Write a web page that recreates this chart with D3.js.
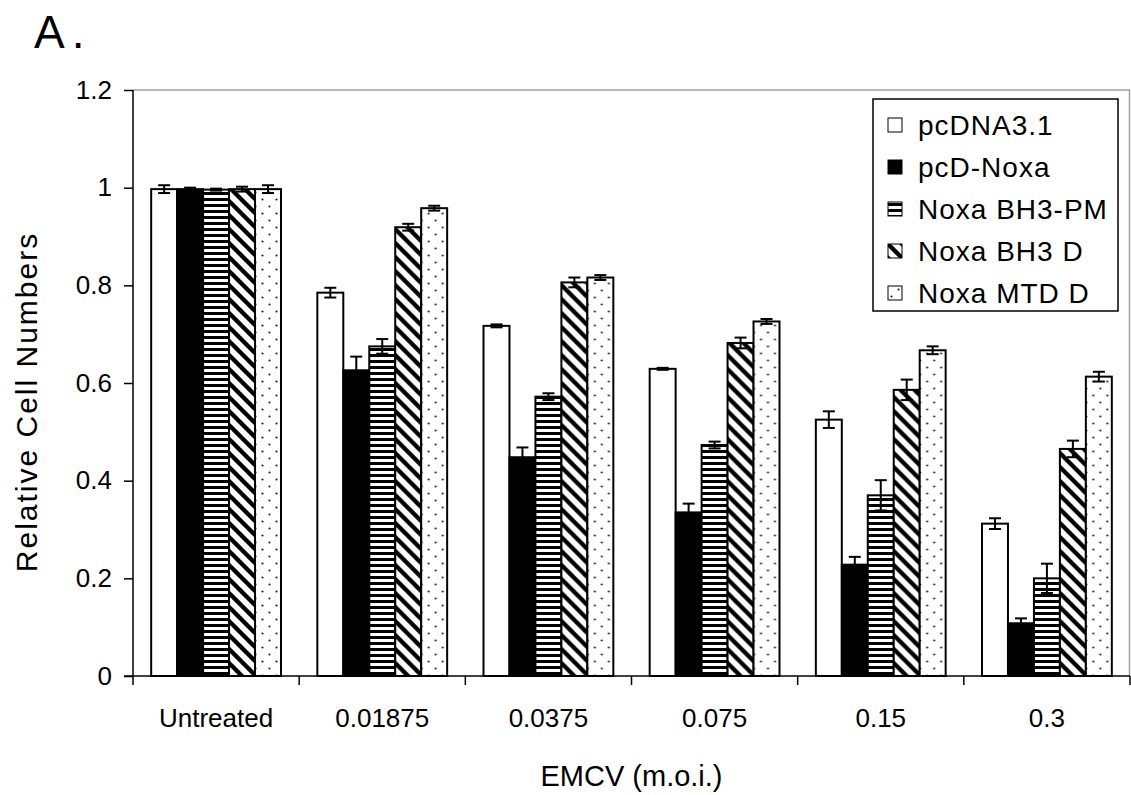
<!DOCTYPE html>
<html>
<head>
<meta charset="utf-8">
<script src="https://cdn.jsdelivr.net/npm/d3@7"></script>
<style>
  body { margin: 0; background: #fff; }
  svg text { font-family: "Liberation Sans", Arial, sans-serif; fill: #000; }
</style>
</head>
<body>
<div id="chart"></div>
<script>
// categories on the x axis (EMCV m.o.i.)
var categories = ["Untreated", "0.01875", "0.0375", "0.075", "0.15", "0.3"];
var series = ["pcDNA3.1", "pcD-Noxa", "Noxa BH3-PM", "Noxa BH3 D", "Noxa MTD D"];

// relative cell numbers, one array per series
var pcDNA = [0.997, 0.785, 0.717, 0.629, 0.525, 0.312];
var pcDNoxa = [0.997, 0.626, 0.448, 0.335, 0.228, 0.108];
var bh3PM = [0.996, 0.675, 0.572, 0.473, 0.370, 0.200];
var bh3D = [0.997, 0.919, 0.806, 0.682, 0.586, 0.465];
var mtdD = [0.997, 0.958, 0.816, 0.726, 0.667, 0.613];

// error bar half-heights
var pcDNAErr = [0.008, 0.010, 0.003, 0.002, 0.017, 0.011];
var pcDNoxaErr = [0.003, 0.028, 0.020, 0.018, 0.016, 0.010];
var bh3PMErr = [0.002, 0.015, 0.007, 0.007, 0.031, 0.030];
var bh3DErr = [0.005, 0.007, 0.010, 0.011, 0.021, 0.017];
var mtdDErr = [0.008, 0.005, 0.005, 0.005, 0.008, 0.010];

var yTicks = [0, 0.2, 0.4, 0.6, 0.8, 1, 1.2];

var values = [pcDNA, pcDNoxa, bh3PM, bh3D, mtdD];
var errors = [pcDNAErr, pcDNoxaErr, bh3PMErr, bh3DErr, mtdDErr];
var fills = ["#fff", "#000", "url(#hstripe)", "url(#diag)", "url(#dots)"];

var width = 1131, height = 795;
var margin = { top: 90, right: 1, bottom: 119, left: 133 };

var svg = d3.select("#chart").append("svg")
    .attr("width", width)
    .attr("height", height);

// fill patterns
var defs = svg.append("defs");

var hs = defs.append("pattern")
    .attr("id", "hstripe")
    .attr("patternUnits", "userSpaceOnUse")
    .attr("width", 6).attr("height", 6);
hs.append("rect").attr("width", 6).attr("height", 6).attr("fill", "#fff");
hs.append("rect").attr("width", 6).attr("height", 3).attr("fill", "#000");

var dg = defs.append("pattern")
    .attr("id", "diag")
    .attr("patternUnits", "userSpaceOnUse")
    .attr("width", 14).attr("height", 14);
dg.append("rect").attr("width", 14).attr("height", 14).attr("fill", "#fff");
dg.append("path")
    .attr("d", "M-7,0 L21,28 M-7,-14 L21,14 M-7,-28 L21,0")
    .attr("stroke", "#000")
    .attr("stroke-width", 4.3);

var dt = defs.append("pattern")
    .attr("id", "dots")
    .attr("patternUnits", "userSpaceOnUse")
    .attr("width", 14).attr("height", 14);
dt.append("rect").attr("width", 14).attr("height", 14).attr("fill", "#fff");
dt.append("circle").attr("cx", 3.5).attr("cy", 3.5).attr("r", 1.1).attr("fill", "#222");
dt.append("circle").attr("cx", 10.5).attr("cy", 10.5).attr("r", 1.1).attr("fill", "#222");

var x0 = d3.scaleBand()
    .domain(categories)
    .range([margin.left, width - margin.right])
    .padding(0);

var x1 = d3.scaleBand()
    .domain(series)
    .range([0, x0.bandwidth()])
    .paddingInner(0)
    .paddingOuter(0.7);

var y = d3.scaleLinear()
    .domain([0, 1.2])
    .range([height - margin.bottom, margin.top]);

// plot area frame (grey top and right)
svg.append("line")
    .attr("x1", margin.left).attr("x2", width - margin.right)
    .attr("y1", y(1.2)).attr("y2", y(1.2))
    .attr("stroke", "#a0a0a0").attr("stroke-width", 1.5);
svg.append("line")
    .attr("x1", width - margin.right - 0.5).attr("x2", width - margin.right - 0.5)
    .attr("y1", y(1.2)).attr("y2", y(0))
    .attr("stroke", "#a0a0a0").attr("stroke-width", 1.5);

// bars
var group = svg.selectAll(".grp")
    .data(categories)
    .enter().append("g")
    .attr("class", "grp")
    .attr("transform", d => "translate(" + x0(d) + ",0)");

group.selectAll("rect")
    .data((c, ci) => series.map((s, si) => ({ s: s, si: si, v: values[si][ci], e: errors[si][ci] })))
    .enter().append("rect")
    .attr("x", d => x1(d.s))
    .attr("y", d => y(d.v))
    .attr("width", x1.bandwidth())
    .attr("height", d => y(0) - y(d.v))
    .attr("fill", d => fills[d.si])
    .attr("stroke", "#000")
    .attr("stroke-width", 2);

// error bars
var capW = 12;
var eb = group.selectAll(".err")
    .data((c, ci) => series.map((s, si) => ({ s: s, si: si, v: values[si][ci], e: errors[si][ci] })))
    .enter().append("g")
    .attr("class", "err")
    .attr("stroke", "#000")
    .attr("stroke-width", 2);

eb.append("line")
    .attr("x1", d => x1(d.s) + x1.bandwidth() / 2)
    .attr("x2", d => x1(d.s) + x1.bandwidth() / 2)
    .attr("y1", d => y(d.v - d.e))
    .attr("y2", d => y(d.v + d.e));
eb.append("line")
    .attr("x1", d => x1(d.s) + x1.bandwidth() / 2 - capW / 2)
    .attr("x2", d => x1(d.s) + x1.bandwidth() / 2 + capW / 2)
    .attr("y1", d => y(d.v + d.e))
    .attr("y2", d => y(d.v + d.e));
eb.append("line")
    .attr("x1", d => x1(d.s) + x1.bandwidth() / 2 - capW / 2)
    .attr("x2", d => x1(d.s) + x1.bandwidth() / 2 + capW / 2)
    .attr("y1", d => y(d.v - d.e))
    .attr("y2", d => y(d.v - d.e));

// y axis
var yAxis = svg.append("g")
    .attr("transform", "translate(" + margin.left + ",0)")
    .call(d3.axisLeft(y).tickValues(yTicks).tickFormat(d3.format("")).tickSize(9).tickPadding(12));
yAxis.selectAll("path, line").attr("stroke", "#000").attr("stroke-width", 1.5);
yAxis.select(".domain").attr("d", "M0," + y(1.2) + "V" + y(0));
yAxis.selectAll("text")
    .style("font-size", "26px")
    .style("font-family", "'Liberation Sans', Arial, sans-serif");

// x axis: labels centered, ticks at category boundaries
var xAxis = svg.append("g")
    .attr("transform", "translate(0," + y(0) + ")")
    .call(d3.axisBottom(x0).tickSize(0).tickPadding(33));
xAxis.select(".domain").attr("stroke", "#000").attr("stroke-width", 1.5)
    .attr("d", "M" + (margin.left - 9) + ",0H" + (width - margin.right));
xAxis.selectAll("text")
    .style("font-size", "26px")
    .style("font-family", "'Liberation Sans', Arial, sans-serif");

var bounds = categories.map(c => x0(c)).concat([x0(categories[categories.length - 1]) + x0.bandwidth()]);
xAxis.selectAll(".btick")
    .data(bounds)
    .enter().append("line")
    .attr("class", "btick")
    .attr("x1", d => d).attr("x2", d => d)
    .attr("y1", 0).attr("y2", 9)
    .attr("stroke", "#000").attr("stroke-width", 1.5);

// axis titles
svg.append("text")
    .attr("x", (margin.left + width - margin.right) / 2)
    .attr("y", 786)
    .attr("text-anchor", "middle")
    .style("font-size", "29px")
    .text("EMCV (m.o.i.)");

svg.append("text")
    .attr("transform", "translate(37," + 402 + ") rotate(-90)")
    .attr("text-anchor", "middle")
    .style("font-size", "30px")
    .style("letter-spacing", "2px")
    .text("Relative Cell Numbers");

svg.append("text")
    .attr("x", 34)
    .attr("y", 48)
    .style("font-size", "46px")
    .style("letter-spacing", "7px")
    .text("A.");

// legend
var legend = svg.append("g");
legend.append("rect")
    .attr("x", 873).attr("y", 99)
    .attr("width", 245).attr("height", 212)
    .attr("fill", "#fff")
    .attr("stroke", "#000").attr("stroke-width", 1.5);

var item = legend.selectAll(".item")
    .data(series)
    .enter().append("g")
    .attr("class", "item")
    .attr("transform", (d, i) => "translate(888," + (125 + i * 42) + ")");

item.append("rect")
    .attr("x", 0).attr("y", -7)
    .attr("width", 14).attr("height", 14)
    .attr("fill", (d, i) => fills[i])
    .attr("stroke", "#000").attr("stroke-width", 1);

item.append("text")
    .attr("x", 30)
    .attr("y", 10)
    .style("font-size", "28px")
    .style("letter-spacing", "1px")
    .text(d => d);
</script>
</body>
</html>
